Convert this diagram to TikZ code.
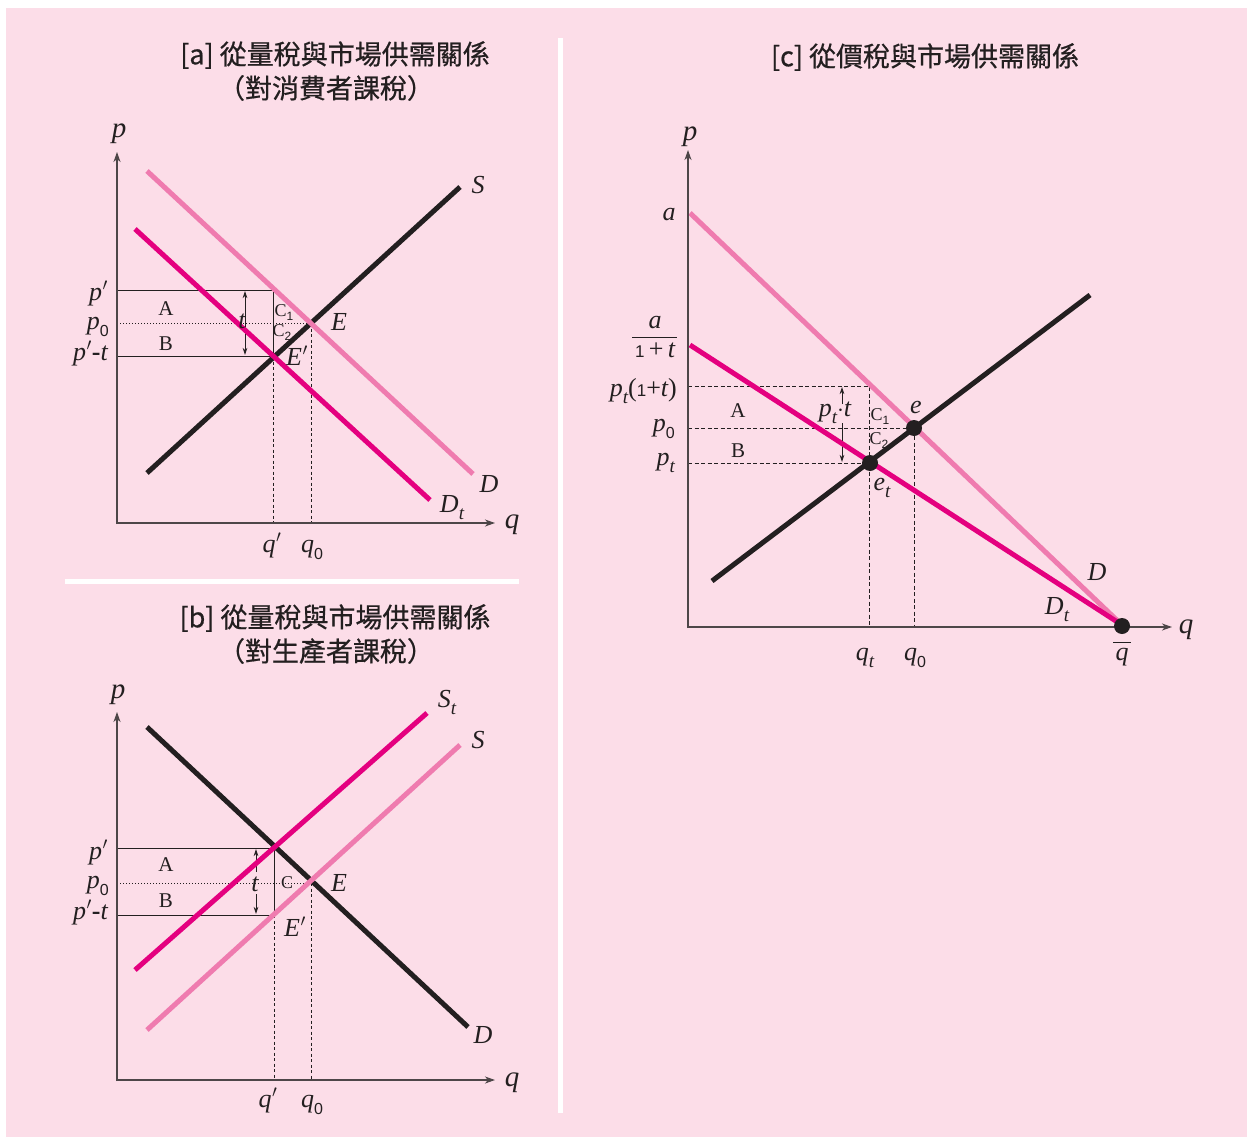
\documentclass[tikz,border=0pt]{standalone}
\usepackage{fontspec}
\setmainfont{Liberation Serif}
\newfontfamily\cjk[FakeBold=0.6]{Noto Sans CJK TC}
\newfontfamily\ssf{Liberation Sans}
\usetikzlibrary{arrows.meta}
\definecolor{bgpink}{HTML}{FCDDE8}
\definecolor{lpink}{HTML}{EF7BAF}
\definecolor{mag}{HTML}{E4007F}
\definecolor{blk}{HTML}{231F20}
\definecolor{axgray}{HTML}{4D4648}
\newcommand\Lz{\raisebox{-0.3em}{\upshape\ssf\fontsize{16}{16}\selectfont 0}}
\newcommand\Lt{\raisebox{-0.28em}{\fontsize{19}{19}\selectfont\itshape t}}
\newcommand\Lone{\raisebox{-0.25em}{\upshape\ssf\fontsize{12}{12}\selectfont 1}}
\newcommand\Ltwo{\raisebox{-0.25em}{\upshape\ssf\fontsize{12}{12}\selectfont 2}}
\newcommand\One{{\upshape\ssf\fontsize{17}{17}\selectfont 1}}
\newcommand\prm{\kern0.5pt$'$}
\newcommand\mns{{\upshape\bfseries -}}
\tikzset{
  curve/.style={line width=5pt},
  axis/.style={draw=axgray, line width=1.3pt, -{Stealth[length=10pt,width=7pt,inset=3pt]}},
  refl/.style={draw=blk, line width=0.8pt},
  dotl/.style={draw=blk, line width=0.9pt, dash pattern=on 1.4pt off 1.6pt},
  dashl/.style={draw=blk, line width=0.8pt, dash pattern=on 3pt off 2.5pt},
  dashc/.style={draw=blk, line width=0.8pt, dash pattern=on 4pt off 2.5pt},
  tarr/.style={draw=blk, line width=0.8pt, -{Stealth[length=7pt,width=4.5pt,inset=2pt]}},
  tarr2/.style={draw=blk, line width=0.8pt, {Stealth[length=7pt,width=4.5pt,inset=2pt]}-{Stealth[length=7pt,width=4.5pt,inset=2pt]}},
  lab/.style={font=\fontsize{26}{28}\selectfont\itshape, inner sep=0pt, anchor=base, text=blk},
  axlab/.style={font=\fontsize{29}{30}\selectfont\itshape, inner sep=0pt, anchor=base, text=blk},
  rom/.style={font=\fontsize{21}{22}\selectfont, inner sep=0pt, anchor=base, text=blk},
  csty/.style={font=\fontsize{18}{20}\selectfont, inner sep=0pt, anchor=base, text=blk},
  ttl/.style={font=\cjk\fontsize{27}{30}\selectfont, inner sep=0pt, text=blk},
  dotn/.style={circle, fill=blk, inner sep=0pt, minimum size=16pt},
}
\begin{document}
\begin{tikzpicture}[x=1pt,y=-1pt]
\useasboundingbox (0,0) rectangle (1247,1137);
\fill[white] (0,0) rectangle (1247,1137);
\fill[bgpink] (6,8) rectangle (1247,1137);
\fill[white] (65,578.5) rectangle (519,583.5);
\fill[white] (558,38) rectangle (563,1113);

% ================= Panel a =================
\node[ttl] (ta1) at (335,55) {[a] 從量稅與市場供需關係};
\node[ttl] (ta2) at (326,88) {（對消費者課稅）};
\coordinate (aY) at (117,152);
\coordinate (aX) at (495,523);
\coordinate (aS1) at (147,473); \coordinate (aS2) at (460,187);
\coordinate (aD1) at (147,171); \coordinate (aD2) at (473,474);
\coordinate (aT1) at (135,229); \coordinate (aT2) at (430,500);
\coordinate (ap1L) at (117,290); \coordinate (ap1R) at (273,290);
\coordinate (ap0L) at (117,323); \coordinate (ap0R) at (311,323);
\coordinate (aptL) at (117,356); \coordinate (aptR) at (273,356);
\coordinate (aq1B) at (273,523); \coordinate (aq0B) at (311,523);
\coordinate (atA) at (245,291); \coordinate (atB) at (245,355);

\draw[refl] (ap1L) -- (ap1R) -- (aptR);
\draw[refl] (aptL) -- (aptR);
\draw[dotl] (ap0L) -- (ap0R);
\draw[dashl] (aptR) -- (aq1B);
\draw[dashl] (ap0R) -- (aq0B);
\draw[tarr2] (atA) -- (atB);
\draw[curve, blk] (aS1) -- (aS2);
\draw[curve, lpink] (aD1) -- (aD2);
\draw[curve, mag] (aT1) -- (aT2);
\draw[axis] (117,524) -- (aY);
\draw[axis] (116.35,523) -- (aX);

\node[axlab] (apl) at (119,138) {p};
\node[axlab] (aql) at (512,528) {q};
\node[lab] (aSl) at (478,193) {S};
\node[lab] (aDl) at (489,492) {D};
\node[lab] (aDtl) at (452,512) {D\Lt};
\node[lab,anchor=base east] (ap1) at (108,300) {p\prm};
\node[lab,anchor=base east] (ap0) at (109,329) {p\Lz};
\node[lab,anchor=base east] (apt) at (108,360) {p\prm\mns t};
\node[rom] (aA) at (166,315) {A};
\node[rom] (aB) at (166,350) {B};
\node[lab] (atl) at (242,328) {t};
\node[csty] (aC1) at (284,316) {C\Lone};
\node[csty] (aC2) at (282,336) {C\Ltwo};
\node[lab] (aE) at (339,330) {E};
\node[lab] (aEp) at (297,365) {E\prm};
\node[lab] (aq1) at (272,552) {q\prm};
\node[lab] (aq0) at (312,552) {q\Lz};

% ================= Panel b =================
\node[ttl] (tb1) at (335,618) {[b] 從量稅與市場供需關係};
\node[ttl] (tb2) at (326,651) {（對生產者課稅）};
\coordinate (bY) at (117,712);
\coordinate (bX) at (495,1080);
\coordinate (bD1) at (147,727); \coordinate (bD2) at (468,1027);
\coordinate (bT1) at (135,970); \coordinate (bT2) at (427,713);
\coordinate (bS1) at (147,1030); \coordinate (bS2) at (460,745);
\coordinate (bp1L) at (117,848); \coordinate (bp1R) at (274,848);
\coordinate (bp0L) at (117,883); \coordinate (bp0R) at (311,883);
\coordinate (bptL) at (117,915); \coordinate (bptR) at (274,915);
\coordinate (bq1B) at (274,1080); \coordinate (bq0B) at (311,1080);
\coordinate (btA1) at (256,872); \coordinate (btA2) at (256,849);
\coordinate (btB1) at (256,894); \coordinate (btB2) at (256,914);

\draw[refl] (bp1L) -- (bp1R) -- (bptR);
\draw[refl] (bptL) -- (bptR);
\draw[dotl] (bp0L) -- (bp0R);
\draw[dashl] (bptR) -- (bq1B);
\draw[dashl] (bp0R) -- (bq0B);
\draw[tarr] (btA1) -- (btA2);
\draw[tarr] (btB1) -- (btB2);
\draw[curve, blk] (bD1) -- (bD2);
\draw[curve, lpink] (bS1) -- (bS2);
\draw[curve, mag] (bT1) -- (bT2);
\draw[axis] (117,1081) -- (bY);
\draw[axis] (116.35,1080) -- (bX);

\node[axlab] (bpl) at (118,698) {p};
\node[axlab] (bql) at (512,1086) {q};
\node[lab] (bStl) at (447,707) {S\Lt};
\node[lab] (bSl) at (478,748) {S};
\node[lab] (bDl) at (483,1043) {D};
\node[lab,anchor=base east] (bp1) at (108,859) {p\prm};
\node[lab,anchor=base east] (bp0) at (109,888) {p\Lz};
\node[lab,anchor=base east] (bpt) at (108,919) {p\prm\mns t};
\node[rom] (bA) at (166,871) {A};
\node[rom] (bB) at (166,907) {B};
\node[lab] (btl) at (255,891) {t};
\node[csty] (bC) at (287,888) {C};
\node[lab] (bE) at (339,891) {E};
\node[lab] (bEp) at (295,936) {E\prm};
\node[lab] (bq1) at (268,1107) {q\prm};
\node[lab] (bq0) at (312,1107) {q\Lz};

% ================= Panel c =================
\node[ttl] (tc1) at (925,57) {[c] 從價稅與市場供需關係};
\coordinate (cY) at (688,150);
\coordinate (cX) at (1172,627);
\coordinate (cD1) at (690,213); \coordinate (cD2) at (1122,625);
\coordinate (cT1) at (690,345); \coordinate (cT2) at (1122,625);
\coordinate (cS1) at (712,581); \coordinate (cS2) at (1090,295);
\coordinate (cp1L) at (688,386); \coordinate (cp1R) at (869,386);
\coordinate (cp0L) at (688,428); \coordinate (cp0R) at (914,428);
\coordinate (cptL) at (688,463); \coordinate (cptR) at (869,463);
\coordinate (cqtB) at (869,627); \coordinate (cq0B) at (914,627);
\coordinate (ctA1) at (842,404); \coordinate (ctA2) at (842,387);
\coordinate (ctB1) at (842,423); \coordinate (ctB2) at (842,462);
\coordinate (cfL) at (632,337); \coordinate (cfR) at (677,337);

\draw[dashc] (cp1L) -- (cp1R) -- (cqtB);
\draw[dashc] (cp0L) -- (cp0R) -- (cq0B);
\draw[dashc] (cptL) -- (cptR);
\draw[tarr] (ctA1) -- (ctA2);
\draw[tarr] (ctB1) -- (ctB2);
\draw[curve, lpink] (cD1) -- (cD2);
\draw[curve, mag] (cT1) -- (cT2);
\draw[curve, blk] (cS1) -- (cS2);
\draw[axis] (688,628) -- (cY);
\draw[axis] (687.35,627) -- (cX);
\node[dotn] (cet) at (870,463) {};
\node[dotn] (ce) at (914,428) {};
\node[dotn] (cqb) at (1122,626) {};

\node[axlab] (cpl) at (690,141) {p};
\node[axlab] (cql) at (1186,633) {q};
\node[lab] (cal) at (669,220) {a};
\node[lab] (cfa) at (655,328) {a};
\draw[blk, line width=1pt] (cfL) -- (cfR);
\node[lab] (cfb) at (655,357) {\One\,{\upshape +}\,t};
\node[lab,anchor=base east] (cp1) at (677,396) {p\Lt{\upshape(}\One{\upshape +}t{\upshape )}};
\node[lab,anchor=base east] (cp0) at (675,431) {p\Lz};
\node[lab,anchor=base east] (cpt) at (675,465) {p\Lt};
\node[rom] (cA) at (738,417) {A};
\node[rom] (cB) at (738,457) {B};
\node[lab] (cptt) at (835,416) {p\Lt{\upshape$\cdot$}t};
\node[csty] (cC1) at (880,420) {C\Lone};
\node[csty] (cC2) at (879,444) {C\Ltwo};
\node[lab] (cel) at (916,413) {e};
\node[lab] (cetl) at (882,490) {e\Lt};
\node[lab] (cDl) at (1097,580) {D};
\node[lab] (cDtl) at (1057,614) {D\Lt};
\node[lab] (cqt) at (865,660) {q\Lt};
\node[lab] (cq0) at (915,660) {q\Lz};
\node[lab] (cqbar) at (1122,660) {q};
\draw[blk, line width=1pt] (1113,642) -- (1131,642);
\end{tikzpicture}
\end{document}
